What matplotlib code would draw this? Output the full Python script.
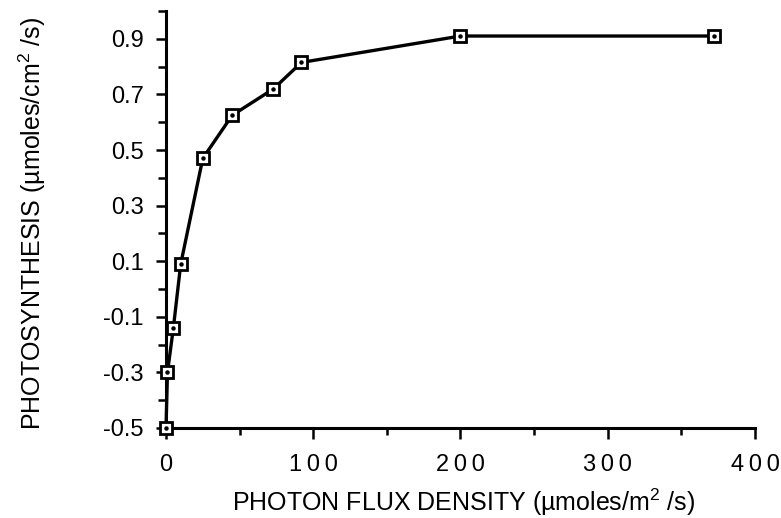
import numpy as np
import matplotlib
matplotlib.use("Agg")
import matplotlib.pyplot as plt
from matplotlib.ticker import MultipleLocator, FuncFormatter

plt.rcParams['font.family'] = ['Liberation Sans', 'DejaVu Sans']
plt.rcParams['mathtext.fontset'] = 'custom'
plt.rcParams['mathtext.rm'] = 'Liberation Sans'

# photon flux density (umoles/m2/s) vs photosynthesis (umoles/cm2/s)
flux = [0, 1, 5, 10, 25, 45, 73, 92, 200, 372]
photo = [-0.5, -0.30, -0.14, 0.09, 0.47, 0.625, 0.72, 0.815, 0.91, 0.91]

fig = plt.figure(figsize=(7.81, 5.18), dpi=100)
ax = fig.add_axes([166/781, 90/518, 589/781, 417/518])

ax.plot(flux, photo, color='black', lw=2.4, marker='s', ms=8.5,
        mfc='white', mec='black', mew=2.0, clip_on=False, zorder=3)
ax.plot(flux, photo, ls='none', marker='o', ms=2.2, color='black',
        clip_on=False, zorder=4)

ax.set_xlim(0, 400)
ax.set_ylim(-0.5, 1.0)

for s in ['top', 'right']:
  ax.spines[s].set_visible(False)
for s in ['left', 'bottom']:
  ax.spines[s].set_linewidth(2.2)

ax.xaxis.set_major_locator(MultipleLocator(100))
ax.xaxis.set_minor_locator(MultipleLocator(50))
ax.set_yticks(np.arange(-0.5, 0.95, 0.2))
ax.yaxis.set_minor_locator(MultipleLocator(0.1))
ax.yaxis.set_major_formatter(FuncFormatter(lambda v, p: '%.1f' % v))
ax.xaxis.set_major_formatter(FuncFormatter(lambda v, p: '\u2009'.join('%d' % v)))

ax.tick_params(axis='both', which='both', direction='out', width=1.8, color='black')
ax.tick_params(axis='y', which='major', length=7, labelsize=17, pad=9)
ax.tick_params(axis='y', which='minor', length=6)
ax.tick_params(axis='x', which='major', length=8, labelsize=17, pad=11)
ax.tick_params(axis='x', which='minor', length=5)

ax.set_xlabel('PHOTON FLUX DENSITY (\u00b5moles/m$^{2}$ /s)', fontsize=18)
ax.set_ylabel('PHOTOSYNTHESIS (\u00b5moles/cm$^{2}$ /s)', fontsize=18)
ax.xaxis.set_label_coords(0.505, -0.14)
ax.yaxis.set_label_coords(-0.2, 0.49)

fig.savefig('out.png', dpi=100)
